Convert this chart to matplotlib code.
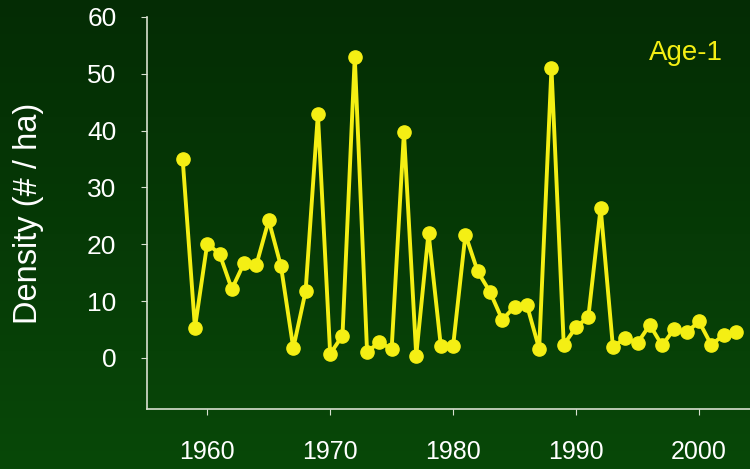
import matplotlib.pyplot as plt
import numpy as np

years = list(range(1958, 2004))
density = [35.0, 5.3, 20.1, 18.3, 12.1, 16.7, 16.4, 24.2, 16.1, 1.7,
           11.7, 42.9, 0.7, 3.9, 53.0, 1.1, 2.7, 1.6, 39.7, 0.4,
           22.0, 2.1, 2.1, 21.7, 15.2, 11.6, 6.7, 9.0, 9.3, 1.6,
           51.0, 2.3, 5.4, 7.2, 26.4, 1.9, 3.5, 2.6, 5.8, 2.2,
           5.1, 4.5, 6.4, 2.3, 4.0, 4.5]
xticks = [1960, 1970, 1980, 1990, 2000]
yticks = [0, 10, 20, 30, 40, 50, 60]

plt.rcParams['font.family'] = ['Liberation Sans', 'DejaVu Sans']

fig = plt.figure(figsize=(7.5, 4.69), dpi=100)

# dark green gradient background
bg = fig.add_axes([0, 0, 1, 1])
top = np.array([4, 44, 4]) / 255
bottom = np.array([8, 72, 8]) / 255
t = np.linspace(0, 1, 256)[:, None]
grad = top * (1 - t) + bottom * t
bg.imshow(grad[:, None, :], aspect='auto', extent=[0, 1, 0, 1])
bg.axis('off')

ax = fig.add_axes([0.196, 0.128, 0.804, 0.836])
ax.patch.set_alpha(0)

ax.plot(years, density, '-o', color='#f4ef14', lw=2.8, ms=9.5)

ax.set_xlim(1955.1, 2004.15)
ax.set_ylim(-9, 60)
ax.set_xticks(xticks)
ax.set_yticks(yticks)

for s in ['top', 'right']:
    ax.spines[s].set_visible(False)
for s in ['left', 'bottom']:
    ax.spines[s].set_color('#d8e0d0')
    ax.spines[s].set_linewidth(1.2)

ax.tick_params(axis='x', colors='#d8e0d0', labelcolor='white', labelsize=18, length=4, pad=18)
ax.tick_params(axis='y', colors='#d8e0d0', labelcolor='white', labelsize=19, length=4, pad=18)

ax.set_ylabel('Density (# / ha)', color='white', fontsize=23.5, va='center')
ax.yaxis.set_label_coords(-0.197, 0.5)
ax.text(1998.9, 52.4, 'Age-1', color='#f4ef14', fontsize=20, ha='center', va='baseline')

fig.savefig('out.png', dpi=100, facecolor=fig.get_facecolor())
